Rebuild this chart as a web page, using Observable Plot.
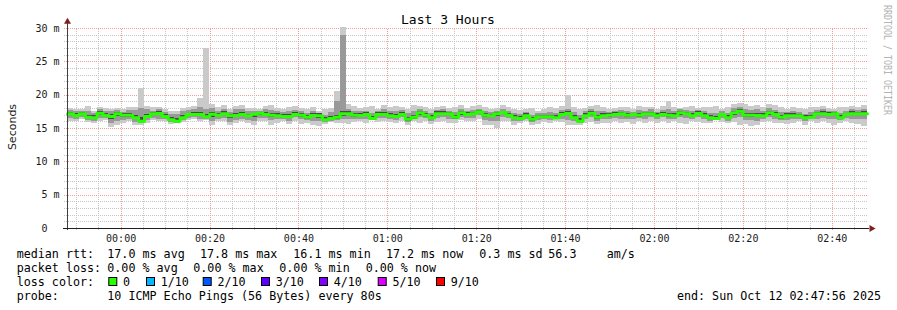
<!DOCTYPE html>
<html><head><meta charset="utf-8">
<script src="https://cdn.jsdelivr.net/npm/d3@7"></script>
<script src="https://cdn.jsdelivr.net/npm/@observablehq/plot@0.6"></script>
<style>
body{margin:0;background:#fff;}
#chart{position:relative;width:897px;height:310px;overflow:hidden;background:#fff;}
</style></head><body><div id="chart"></div>
<script>
// ---------- data ----------
const title = "Last 3 Hours";
const endTime = "2025-10-12T02:47:56Z";
const stepSeconds = 80;
const yTicks = [0, 5, 10, 15, 20, 25, 30];

const median = [17.2,16.95,17.2,16.7,16.6,17.3,16.95,16.8,17.2,17.0,17.0,16.6,16.1,16.8,17.2,17.25,16.8,16.3,16.1,16.6,17.1,17.1,17.1,16.75,17.15,17.0,17.2,16.9,16.95,17.1,16.9,17.15,17.3,
17.1,17.0,16.9,16.8,16.8,17.1,17.0,16.7,16.95,16.9,16.3,16.5,16.7,17.2,17.2,17.0,16.95,17.1,16.5,17.1,17.1,16.9,16.8,17.1,16.4,16.7,17.35,17.0,16.6,17.2,17.2,17.2,16.7,17.35,17.1,
17.2,17.5,17.0,16.9,17.2,17.4,17.0,16.6,16.5,16.9,16.4,16.75,16.75,16.75,16.6,17.1,17.25,16.6,16.1,16.9,17.3,16.7,16.9,17.0,17.1,17.2,17.0,17.1,17.0,17.2,17.2,16.9,17.1,
17.0,16.9,17.35,17.2,16.9,17.25,16.9,16.6,16.5,17.1,16.6,17.35,17.6,17.0,17.0,16.95,16.9,17.35,17.1,16.7,16.9,16.9,16.9,16.6,16.7,17.2,17.2,17.1,17.2,16.6,17.1,17.2,17.2,17.2];

const pingMax = [18.0,17.9,17.9,18.3,17.6,18.1,18.0,17.9,18.0,17.8,18.1,18.2,21.0,18.3,18.1,18.2,17.8,17.5,17.6,18.0,18.2,18.3,19.5,27.0,18.6,18.1,18.5,17.9,18.3,18.5,18.0,18.0,17.8,
18.3,18.4,18.0,17.9,18.2,18.3,18.0,17.8,18.2,17.6,17.9,18.0,20.5,30.2,18.6,18.3,18.0,18.1,18.3,17.8,18.5,18.1,18.3,18.2,17.9,18.4,18.3,18.1,17.8,18.2,18.3,18.0,18.1,18.4,18.0,
18.3,18.4,18.1,17.8,18.0,18.5,18.2,17.9,17.7,17.9,18.0,17.6,17.8,18.1,18.0,18.3,20.0,18.2,17.8,18.0,18.3,18.4,18.2,17.9,18.0,18.2,18.1,17.8,18.3,18.1,18.2,17.9,18.3,
19.0,18.2,18.0,18.1,18.3,18.0,18.2,18.1,18.3,17.9,18.2,18.6,18.7,18.6,18.3,18.5,18.2,18.6,18.4,18.2,17.9,18.1,18.0,17.8,18.2,18.1,18.3,18.0,17.9,18.1,18.2,18.3,18.2,18.4];

const pingMin = [16.1,16.0,16.3,15.9,15.8,16.0,16.2,15.2,15.4,15.7,16.0,15.5,15.5,15.8,16.2,16.0,16.0,15.6,15.7,15.9,16.2,16.3,16.0,16.2,15.5,16.0,16.1,15.4,15.8,16.0,15.8,15.5,16.1,
16.0,15.5,15.8,16.0,15.6,16.1,15.6,15.8,15.4,15.3,15.6,15.9,15.7,15.8,15.6,15.9,16.0,15.7,16.2,15.9,16.0,15.9,15.7,16.1,15.5,16.0,15.7,16.0,15.6,15.9,16.0,15.7,15.8,16.2,16.0,
16.0,16.3,15.4,15.5,15.0,16.1,16.0,15.5,15.8,16.0,15.5,15.6,15.9,15.8,16.1,15.9,15.5,15.5,15.4,15.7,15.9,15.6,15.8,15.7,16.0,15.8,15.9,15.6,16.1,15.8,16.0,15.7,16.1,
15.8,16.0,15.8,15.6,16.0,15.9,15.8,15.7,16.2,15.9,15.8,15.9,15.4,15.6,15.3,15.5,15.9,16.1,15.8,15.7,15.6,15.8,16.0,15.5,16.1,15.7,16.0,15.8,15.5,15.8,16.0,15.7,15.6,15.3];

const midHigh = [17.7,17.5,17.6,17.6,17.2,17.8,17.6,17.5,17.7,17.4,17.7,17.7,18.0,17.8,17.6,17.8,17.4,17.1,17.1,17.5,17.7,17.8,18.2,17.9,18.0,17.5,17.9,17.4,17.8,17.9,17.5,17.6,17.6,
17.8,17.7,17.5,17.4,17.6,17.7,17.5,17.3,17.6,17.3,17.0,17.4,19.0,29.0,17.9,17.6,17.5,17.6,17.3,17.5,17.8,17.5,17.5,17.7,17.2,17.6,17.8,17.6,17.2,17.7,17.8,17.6,17.4,17.9,17.6,
17.7,17.9,17.5,17.4,17.6,17.9,17.6,17.2,17.1,17.4,17.0,17.2,17.3,17.4,17.2,17.7,17.8,17.4,16.9,17.5,17.8,17.5,17.6,17.4,17.6,17.7,17.6,17.4,17.7,17.6,17.8,17.4,17.7,
17.8,17.5,17.8,17.7,17.5,17.7,17.6,17.3,17.2,17.6,17.3,18.0,18.1,17.8,17.7,17.8,17.5,18.0,17.7,17.4,17.4,17.5,17.4,17.1,17.4,17.7,17.8,17.6,17.6,17.3,17.6,17.8,17.7,17.8];

const midLow = [16.5,16.3,16.6,16.2,16.0,16.5,16.5,15.8,16.0,16.2,16.3,15.9,15.8,16.2,16.5,16.4,16.3,15.9,15.8,16.2,16.5,16.6,16.4,16.4,16.0,16.4,16.5,15.9,16.2,16.4,16.2,16.0,16.5,
16.5,16.2,16.3,16.4,16.1,16.6,16.3,16.2,16.1,16.0,15.9,16.0,16.2,16.3,16.4,16.4,16.4,16.3,16.3,16.5,16.5,16.3,16.2,16.6,15.9,16.3,16.6,16.5,16.1,16.5,16.6,16.4,16.3,16.7,16.5,
16.5,16.9,16.2,16.1,16.0,16.7,16.5,16.0,16.1,16.4,15.9,16.2,16.3,16.2,16.3,16.4,16.2,16.1,15.8,16.3,16.6,16.1,16.3,16.4,16.5,16.4,16.4,16.3,16.5,16.4,16.6,16.3,16.6,
16.3,16.4,16.7,16.5,16.4,16.6,16.3,16.1,16.4,16.5,16.1,16.5,16.7,16.2,16.2,16.1,16.3,16.7,16.4,16.2,16.2,16.3,16.4,16.0,16.4,16.4,16.5,16.4,16.3,16.2,16.5,16.4,16.3,16.4];

const coreHigh = [17.4,17.2,17.4,17.0,16.9,17.5,17.2,17.1,17.4,17.2,17.3,17.0,16.6,17.1,17.4,17.5,17.1,16.6,16.5,16.9,17.3,17.4,17.4,17.1,17.4,17.2,17.5,17.1,17.2,17.4,17.1,17.3,17.4,
17.4,17.3,17.2,17.1,17.1,17.4,17.3,17.0,17.2,17.2,16.6,16.8,17.0,17.6,17.5,17.3,17.2,17.4,16.8,17.4,17.4,17.2,17.1,17.4,16.7,17.0,17.6,17.3,16.9,17.5,17.5,17.4,17.0,17.6,17.4,
17.4,17.7,17.3,17.1,17.4,17.6,17.3,16.9,16.8,17.2,16.7,17.0,17.0,17.0,16.9,17.4,17.5,16.9,16.5,17.2,17.5,17.0,17.2,17.2,17.4,17.4,17.3,17.3,17.3,17.4,17.4,17.2,17.4,
17.3,17.2,17.6,17.4,17.2,17.5,17.2,16.9,16.8,17.3,16.9,17.6,17.8,17.3,17.3,17.2,17.2,17.6,17.4,17.0,17.2,17.2,17.1,16.9,17.0,17.4,17.5,17.4,17.4,16.9,17.3,17.5,17.4,17.5];

const coreLow = [16.9,16.7,16.9,16.5,16.3,17.0,16.8,16.4,16.8,16.7,16.7,16.3,15.9,16.5,16.9,16.9,16.6,16.1,15.9,16.4,16.8,16.9,16.8,16.6,16.7,16.8,16.9,16.5,16.6,16.8,16.6,16.7,16.9,
16.8,16.7,16.6,16.5,16.5,16.8,16.7,16.4,16.6,16.5,16.0,16.2,16.4,16.8,16.9,16.7,16.6,16.8,16.2,16.8,16.8,16.6,16.5,16.8,16.1,16.4,17.0,16.7,16.3,16.9,16.9,16.9,16.4,17.0,16.8,
16.9,17.2,16.7,16.6,16.8,17.1,16.8,16.3,16.3,16.6,16.1,16.5,16.5,16.5,16.4,16.8,16.9,16.3,15.9,16.6,17.0,16.4,16.6,16.7,16.8,16.9,16.7,16.8,16.7,16.9,16.9,16.6,16.8,
16.7,16.6,17.0,16.9,16.6,16.9,16.6,16.3,16.6,16.8,16.3,17.0,17.2,16.7,16.7,16.6,16.6,17.0,16.8,16.4,16.6,16.6,16.6,16.3,16.5,16.9,16.9,16.8,16.9,16.3,16.8,16.9,16.9,16.9];

const legendRtt = ["median rtt:", "17.0 ms avg", "17.8 ms max", "16.1 ms min", "17.2 ms now", "0.3 ms sd", "56.3", "am/s"];
const legendLoss = ["packet loss:", "0.00 % avg", "0.00 % max", "0.00 % min", "0.00 % now"];
const lossLabels = ["0", "1/10", "2/10", "3/10", "4/10", "5/10", "9/10"];
const lossColors = ["#26ff00", "#00b8ff", "#0059ff", "#5e00ff", "#7e00ff", "#dd00ff", "#ff0000"];
const probeText = ["probe:", "10 ICMP Echo Pings (56 Bytes) every 80s"];
const endText = "end: Sun Oct 12 02:47:56 2025";
const watermark = "RRDTOOL / TOBI OETIKER";

// ---------- layout ----------
const W = 897, H = 310;
const rttX = [16.7, 107.3, 200, 293.3, 386, 479.3, 548.3, 606.7];
const lossX = [16.7, 107.3, 193.3, 279.3, 365.7];
const boxX = [108.3, 146, 202.7, 261, 319, 377.7, 436];
const legendFont = "11.7px 'DejaVu Sans Mono'";

const end = new Date(endTime);
const n = Math.min(median.length, pingMax.length, pingMin.length, midHigh.length, midLow.length, coreHigh.length, coreLow.length);
const stepMs = stepSeconds * 1000;
const start = new Date(+end - n * stepMs);
const tAt = i => new Date(+start + i * stepMs);
const bars = d3.range(n).map(i => ({
  x1: tAt(i), x2: tAt(i + 1), med: median[i],
  lo: pingMin[i], hi: pingMax[i], l2: midLow[i], h2: midHigh[i], l3: coreLow[i], h3: coreHigh[i]
}));
const medLine = bars.map(b => ({x: b.x1, y: b.med})).concat([{x: bars[n - 1].x2, y: bars[n - 1].med}]);

const msPerPx = (n * stepMs) / 800;
const minorX = d3.utcMinute.every(5).range(start, end);
const isMajorX = d => d.getUTCMinutes() % 20 === 0;
const majorX = minorX.filter(isMajorX);
const gridY = d3.range(1, 31);

const gridGray = "#c6c6c6";
const gridRed = "#ee9c9c";
const arrowCol = "#801f1f";

const plot = Plot.plot({
  width: W, height: H,
  marginLeft: 67, marginRight: 30, marginTop: 28, marginBottom: 82,
  x: {type: "utc", domain: [start, end], label: null},
  y: {domain: [0, 30], label: null},
  style: {fontFamily: "'DejaVu Sans Mono'", fontSize: "10px", background: "#fff", color: "#000"},
  marks: [
    // grid (behind the smoke)
    Plot.ruleY(gridY, {y: d => d, x1: new Date(+start - 3 * msPerPx), x2: new Date(+end + 1 * msPerPx),
      stroke: d => d % 5 === 0 ? gridRed : gridGray, strokeDasharray: "1,1", shapeRendering: "crispEdges"}),
    Plot.ruleX(minorX, {x: d => d, y1: -0.35, y2: 30,
      stroke: d => isMajorX(d) ? gridRed : gridGray, strokeDasharray: "1,1", shapeRendering: "crispEdges"}),
    // smoke
    Plot.rect(bars, {x1: "x1", x2: "x2", y1: "lo", y2: "hi", fill: "#cacaca", shapeRendering: "crispEdges"}),
    Plot.rect(bars, {x1: "x1", x2: "x2", y1: "l2", y2: "h2", fill: "#999999", shapeRendering: "crispEdges"}),
    Plot.rect(bars, {x1: "x1", x2: "x2", y1: "l3", y2: "h3", fill: "#484848", shapeRendering: "crispEdges"}),
    Plot.line(medLine, {x: "x", y: "y", curve: "step-after", stroke: "#26ff00", strokeWidth: 3}),
    // axes lines + arrows
    Plot.ruleX([start], {y1: -0.35, y2: 31.0, stroke: "#404040", shapeRendering: "crispEdges"}),
    Plot.ruleY([0], {x1: new Date(+start - 4 * msPerPx), x2: new Date(+end + 2 * msPerPx), stroke: "#1f1f1f", shapeRendering: "crispEdges"}),
    Plot.dot([start], {x: d => d, y: 31.0, symbol: "triangle", r: 2.6, fill: arrowCol, stroke: null}),
    Plot.dot([end], {x: d => new Date(+d + 4 * msPerPx), y: 0, symbol: "triangle", r: 2.6, rotate: 90, fill: arrowCol, stroke: null}),
    Plot.axisY({ticks: yTicks, tickSize: 0, tickPadding: 8, fill: "#1a1a1a",
      tickFormat: d => d === 0 ? "0\u00a0\u00a0" : d + " m", label: null}),
    Plot.axisX({ticks: majorX, tickSize: 0, tickPadding: 6, fill: "#1a1a1a",
      tickFormat: d3.utcFormat("%H:%M"), label: null})
  ]
});
document.getElementById("chart").appendChild(plot);

// ---------- titles & legend ----------
const svg = d3.select(plot);
svg.append("text").attr("x", 448).attr("y", 24).attr("text-anchor", "middle")
  .style("font", "13px 'DejaVu Sans Mono'").attr("fill", "#000").text(title);
svg.append("text").attr("transform", "translate(16,127) rotate(-90)").attr("text-anchor", "middle")
  .style("font", "11px 'DejaVu Sans'").attr("fill", "#1a1a1a").text("Seconds");
svg.append("text").attr("transform", "translate(884,5) rotate(90)").attr("text-anchor", "start")
  .attr("textLength", 110).attr("lengthAdjust", "spacingAndGlyphs")
  .style("font", "11px 'DejaVu Sans Mono'").attr("fill", "#b4b4b4").text(watermark);

const leg = svg.append("g").style("font", legendFont).attr("fill", "#000").attr("text-anchor", "start");
legendRtt.forEach((s, i) => leg.append("text").attr("x", rttX[i]).attr("y", 258).text(s));
legendLoss.forEach((s, i) => leg.append("text").attr("x", lossX[i]).attr("y", 272).text(s));
leg.append("text").attr("x", 16.7).attr("y", 286).text("loss color:");
lossLabels.forEach((s, i) => {
  leg.append("rect").attr("x", boxX[i] + 0.5).attr("y", 277.5).attr("width", 8).attr("height", 8)
    .attr("fill", lossColors[i]).attr("stroke", "#000").attr("stroke-width", 1);
  leg.append("text").attr("x", boxX[i] + 14.7).attr("y", 286).text(s);
});
leg.append("text").attr("x", 16.7).attr("y", 300).text(probeText[0]);
leg.append("text").attr("x", 107.3).attr("y", 300).text(probeText[1]);
leg.append("text").attr("x", 881).attr("y", 300).attr("text-anchor", "end").text(endText);
</script></body></html>
